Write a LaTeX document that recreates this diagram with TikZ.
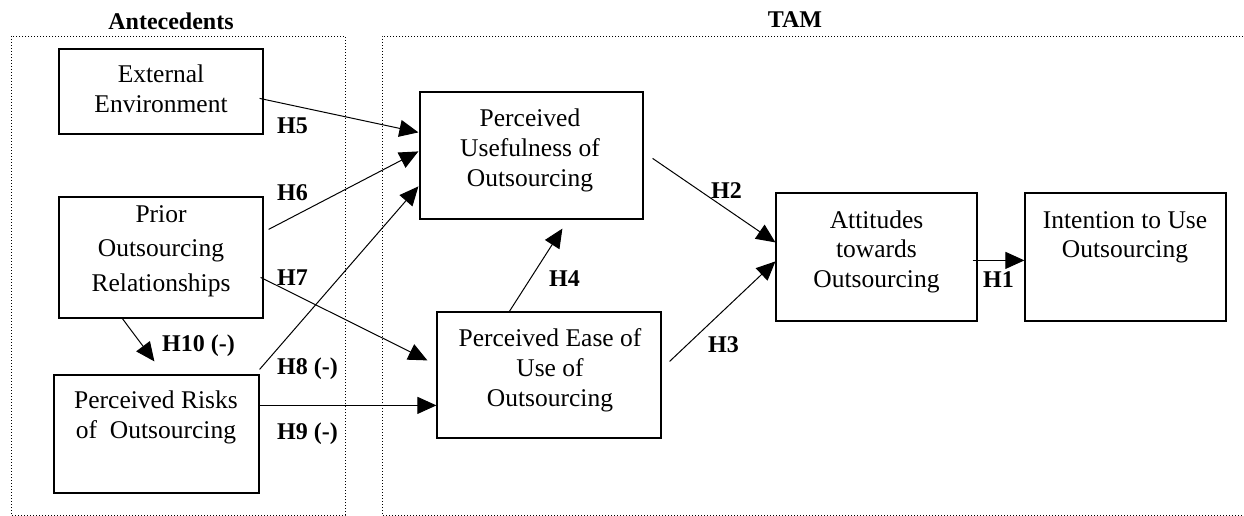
\documentclass[tikz,border=0pt]{standalone}
\usepackage{fontspec}
\setmainfont{Liberation Serif}
\usetikzlibrary{arrows.meta,calc}
\newcommand{\mtext}[2][30pt]{\parbox[t]{230pt}{\fontsize{25.5}{#1}\selectfont\centering #2}}
\tikzset{
  boxnode/.style={draw, line width=1.2pt, rectangle, inner sep=0pt},
  txtnode/.style={anchor=base, inner sep=0pt},
  hlabel/.style={anchor=base west, inner sep=0pt, font=\fontsize{24}{28}\selectfont\bfseries},
  grouplabel/.style={anchor=base, inner sep=0pt, font=\fontsize{24}{28}\selectfont\bfseries},
  arr/.style={line width=1pt, -{Triangle[length=19pt,width=17pt]}},
  groupbox/.style={line width=0.8pt, dash pattern=on 1pt off 2pt}
}
\begin{document}
\begin{tikzpicture}[x=1pt,y=-1pt]
\useasboundingbox (0,0) rectangle (1244,516);
% group boxes
\draw[groupbox] (11,36) rectangle (345,515);
\draw[groupbox] (1246,36) -- (382,36) -- (382,515) -- (1246,515);
\node[grouplabel] (antlab) at (171,30) {Antecedents};
\node[grouplabel] (tamlab) at (795,28) {TAM};
% boxes
\node[boxnode, minimum width=204pt, minimum height=85pt] (ext) at (161,91.5) {};
\node[boxnode, minimum width=204pt, minimum height=121pt] (prior) at (161,257.5) {};
\node[boxnode, minimum width=205pt, minimum height=118pt] (risk) at (156.5,434) {};
\node[boxnode, minimum width=223pt, minimum height=127pt] (pu) at (531.5,155.5) {};
\node[boxnode, minimum width=224pt, minimum height=126pt] (peou) at (549,375) {};
\node[boxnode, minimum width=201pt, minimum height=128pt] (att) at (876.5,257) {};
\node[boxnode, minimum width=201pt, minimum height=128pt] (int) at (1125.5,257) {};
% texts
\node[txtnode] (ext-t) at (161,83) {\mtext{External\\Environment}};
\node[txtnode] (prior-t) at (161,222) {\mtext[34.5pt]{Prior\\Outsourcing\\Relationships}};
\node[txtnode] (risk-t) at (156,408) {\mtext{Perceived Risks\\of~ Outsourcing}};
\node[txtnode] (pu-t) at (530,127) {\mtext{Perceived\\Usefulness of\\Outsourcing}};
\node[txtnode] (peou-t) at (550,346) {\mtext{Perceived Ease of\\Use of\\Outsourcing}};
\node[txtnode] (att-t) at (876.5,228) {\mtext[29.8pt]{Attitudes\\towards\\Outsourcing}};
\node[txtnode] (int-t) at (1125,228) {\mtext[29.8pt]{Intention to Use\\Outsourcing}};
% connector end points
\coordinate (h5s) at ([shift={(-4,50)}]ext.north east);
\coordinate (h5e) at ([shift={(-1,41)}]pu.north west);
\coordinate (h6s) at ([shift={(5,33)}]prior.north east);
\coordinate (h6e) at ([shift={(-1,60)}]pu.north west);
\coordinate (h8s) at ([shift={(0,-5)}]risk.north east);
\coordinate (h8e) at ([shift={(-1,95)}]pu.north west);
\coordinate (h7s) at ([shift={(-3,81)}]prior.north east);
\coordinate (h7e) at ([shift={(-9,49)}]peou.north west);
\coordinate (h9s) at ([shift={(0,31)}]risk.north east);
\coordinate (h9e) at ([shift={(0,94)}]peou.north west);
\coordinate (h10s) at ([shift={(64,0)}]prior.south west);
\coordinate (h10e) at ([shift={(101,-13)}]risk.north west);
\coordinate (h4s) at ([shift={(73,0)}]peou.north west);
\coordinate (h4e) at ([shift={(143,9)}]pu.south west);
\coordinate (h2s) at ([shift={(9,67)}]pu.north east);
\coordinate (h2e) at ([shift={(0,50)}]att.north west);
\coordinate (h3s) at ([shift={(8,50)}]peou.north east);
\coordinate (h3e) at ([shift={(0,69)}]att.north west);
\coordinate (h1s) at ([shift={(-5,68)}]att.north east);
\coordinate (h1e) at ([shift={(0,68)}]int.north west);
% connectors
\draw[arr] (h5s) -- (h5e);
\draw[arr] (h6s) -- (h6e);
\draw[arr] (h8s) -- (h8e);
\draw[arr] (h7s) -- (h7e);
\draw[arr] (h9s) -- (h9e);
\draw[arr] (h10s) -- (h10e);
\draw[arr] (h4s) -- (h4e);
\draw[arr] (h2s) -- (h2e);
\draw[arr] (h3s) -- (h3e);
\draw[arr] (h1s) -- (h1e);
% labels
\node[hlabel] (l5) at (277,133) {H5};
\node[hlabel] (l6) at (277,200) {H6};
\node[hlabel] (l7) at (277,285) {H7};
\node[hlabel] (l10) at (162,351) {H10 (-)};
\node[hlabel] (l8) at (277,374) {H8 (-)};
\node[hlabel] (l9) at (277,439) {H9 (-)};
\node[hlabel] (l2) at (711,198) {H2};
\node[hlabel] (l4) at (549,286) {H4};
\node[hlabel] (l3) at (708,352) {H3};
\node[hlabel] (l1) at (983,287) {H1};
\end{tikzpicture}
\end{document}
